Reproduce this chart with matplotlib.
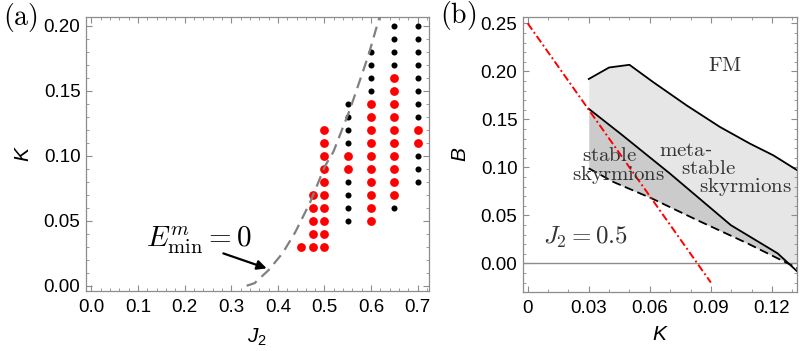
import numpy as np
import matplotlib
matplotlib.use('Agg')
from matplotlib import pyplot as plt
from matplotlib.ticker import MultipleLocator, FormatStrFormatter, FuncFormatter

plt.rcParams['font.family'] = ['Liberation Sans', 'DejaVu Sans']
plt.rcParams['mathtext.fontset'] = 'cm'
# sans italic math for the axis labels
plt.rcParams['mathtext.it'] = 'Liberation Sans:italic'
plt.rcParams['mathtext.rm'] = 'Liberation Sans'

# ---- panel (a): simulation points, K vs J2
red_j2 = [0.45, 0.475, 0.5, 0.55, 0.6, 0.65, 0.7]
red_k = [[0.03],
         [0.03, 0.04, 0.05, 0.06, 0.07],
         [0.03, 0.04, 0.05, 0.06, 0.07, 0.08, 0.09, 0.10, 0.11, 0.12],
         [0.09, 0.10],
         [0.05, 0.06, 0.07, 0.08, 0.09, 0.10, 0.11, 0.12, 0.13, 0.14],
         [0.07, 0.08, 0.09, 0.10, 0.11, 0.12, 0.13, 0.14, 0.15, 0.16],
         [0.11, 0.12]]
black_j2 = [0.55, 0.6, 0.65, 0.7]
black_k = [[0.05, 0.06, 0.07, 0.08, 0.11, 0.12, 0.13, 0.14],
           [0.15, 0.16, 0.17, 0.18],
           [0.06, 0.17, 0.18, 0.19, 0.20],
           [0.08, 0.09, 0.10, 0.13, 0.14, 0.15, 0.16, 0.17, 0.18, 0.19, 0.20]]
# E_min^m = 0 curve
emin_j2 = [0.333, 0.35, 0.38, 0.41, 0.437, 0.469, 0.501, 0.519, 0.555, 0.594, 0.615, 0.625]
emin_k = [0.0, 0.002, 0.012, 0.025, 0.041, 0.064, 0.092, 0.103, 0.136, 0.177, 0.203, 0.215]

# ---- panel (b): phase diagram B vs K at J2 = 0.5
fm_k = [0.03, 0.04, 0.05, 0.0617, 0.0781, 0.0945, 0.1092, 0.1207, 0.133]
fm_b = [0.192, 0.204, 0.2068, 0.1887, 0.1645, 0.142, 0.1247, 0.1125, 0.0962]
st_k = [0.03, 0.0455, 0.0699, 0.0998, 0.1228, 0.133]
st_b = [0.161, 0.1352, 0.0935, 0.0398, 0.0104, -0.0095]
ms_k = [0.03, 0.0421, 0.0611, 0.0833, 0.108, 0.1212, 0.133]
ms_b = [0.099, 0.0848, 0.0675, 0.045, 0.0208, 0.0069, -0.0055]
red_line_k = [0.0, 0.09]
red_line_b = [0.25, -0.02]

frame_col = '#8c8c8c'


def style(ax):
    for s in ax.spines.values():
        s.set_color(frame_col)
        s.set_linewidth(0.9)
    ax.tick_params(which='both', direction='in', top=True, right=True,
                   color=frame_col, labelsize=13.5)
    ax.tick_params(axis='y', pad=4)
    ax.tick_params(axis='x', pad=6)
    ax.tick_params(which='major', length=4.5, width=0.8)
    ax.tick_params(which='minor', length=2.5, width=0.6)


fig = plt.figure(figsize=(8.06, 3.51), dpi=100)
ax1 = fig.add_axes([86 / 806, 60.3 / 351, 342.7 / 806, 273.4 / 351])
ax2 = fig.add_axes([523 / 806, 59.3 / 351, 274 / 806, 275 / 351])

# panel a
for x, ks in zip(red_j2, red_k):
    ax1.scatter([x] * len(ks), ks, s=40, color='#ff0000', lw=0, zorder=2)
for x, ks in zip(black_j2, black_k):
    ax1.scatter([x] * len(ks), ks, s=19, color='black', lw=0, zorder=2)
ax1.plot(emin_j2, emin_k, color='#808080', lw=1.6, ls=(0, (5, 3)), zorder=3)
ax1.annotate('', xy=(0.376, 0.0134), xytext=(0.283, 0.0249),
             arrowprops=dict(arrowstyle='-|>', color='black', lw=1.6,
                             mutation_scale=14, shrinkA=0, shrinkB=0))
ax1.text(0.231, 0.035, r'$E^m_{\min}=0$', fontsize=21, ha='center', va='center',
         math_fontfamily='cm')
ax1.set_xlim(-0.0115, 0.7235)
ax1.set_ylim(-0.0038, 0.2065)
ax1.xaxis.set_major_locator(MultipleLocator(0.1))
ax1.xaxis.set_minor_locator(MultipleLocator(0.02))
ax1.yaxis.set_major_locator(MultipleLocator(0.05))
ax1.yaxis.set_minor_locator(MultipleLocator(0.01))
ax1.xaxis.set_major_formatter(FormatStrFormatter('%.1f'))
ax1.yaxis.set_major_formatter(FormatStrFormatter('%.2f'))
style(ax1)
ax1.set_xlabel(r'$J_2$', fontsize=15, labelpad=8, math_fontfamily='custom')
ax1.set_ylabel(r'$K$', fontsize=15, labelpad=8, math_fontfamily='custom')
fig.text(3 / 806, 1 - 17 / 351, r'$\mathrm{(a)}$', fontsize=20, va='center',
         math_fontfamily='cm')

# panel b
kk = np.linspace(0.03, 0.133, 300)
fm_i = np.interp(kk, fm_k, fm_b)
st_i = np.interp(kk, st_k, st_b)
ms_i = np.interp(kk, ms_k, ms_b)
ax2.fill_between(kk, np.maximum(st_i, 0), fm_i, color='#e6e6e6', lw=0, zorder=0)
ax2.fill_between(kk, ms_i, st_i, where=st_i > ms_i, color='#cbcbcb', lw=0, zorder=0)
ax2.axhline(0, color='#8c8c8c', lw=1.0, zorder=1)
ax2.plot(fm_k, fm_b, color='black', lw=1.3, zorder=2)
ax2.plot(st_k, st_b, color='black', lw=1.3, zorder=2)
ax2.plot(ms_k, ms_b, color='black', lw=1.3, ls=(0, (5, 2.5)), zorder=2)
ax2.plot(red_line_k, red_line_b, color='#ff0000', lw=1.4, ls=(0, (4, 1.5, 1, 1.5)), zorder=3)

tc = '#333333'
labels_b = [(0.0968, 0.206, r'$\mathrm{FM}$'),
            (0.0403, 0.1125, r'$\mathrm{stable}$'),
            (0.0448, 0.0917, r'$\mathrm{skyrmions}$'),
            (0.0776, 0.1177, r'$\mathrm{meta}$-'),
            (0.0886, 0.0987, r'$\mathrm{stable}$'),
            (0.1071, 0.0796, r'$\mathrm{skyrmions}$')]
for x, y, s in labels_b:
    ax2.text(x, y, s, fontsize=15, ha='center', va='center', color=tc, zorder=4,
             math_fontfamily='cm')
ax2.text(0.0075, 0.027, r'$J_2=0.5$', fontsize=18, ha='left', va='center', color=tc,
         zorder=4, math_fontfamily='cm')

ax2.set_xlim(-0.0023, 0.1323)
ax2.set_ylim(-0.0295, 0.2569)
ax2.xaxis.set_major_locator(MultipleLocator(0.03))
ax2.xaxis.set_minor_locator(MultipleLocator(0.01))
ax2.yaxis.set_major_locator(MultipleLocator(0.05))
ax2.yaxis.set_minor_locator(MultipleLocator(0.01))
ax2.xaxis.set_major_formatter(FuncFormatter(lambda v, p: '0' if abs(v) < 1e-9 else '%.2f' % v))
ax2.yaxis.set_major_formatter(FormatStrFormatter('%.2f'))
style(ax2)
ax2.set_xlabel(r'$K$', fontsize=15, labelpad=6, math_fontfamily='custom')
ax2.set_ylabel(r'$B$', fontsize=15, labelpad=8, math_fontfamily='custom')
fig.text(440 / 806, 1 - 15 / 351, r'$\mathrm{(b)}$', fontsize=20, va='center',
         math_fontfamily='cm')

fig.savefig('out.png', dpi=100)
